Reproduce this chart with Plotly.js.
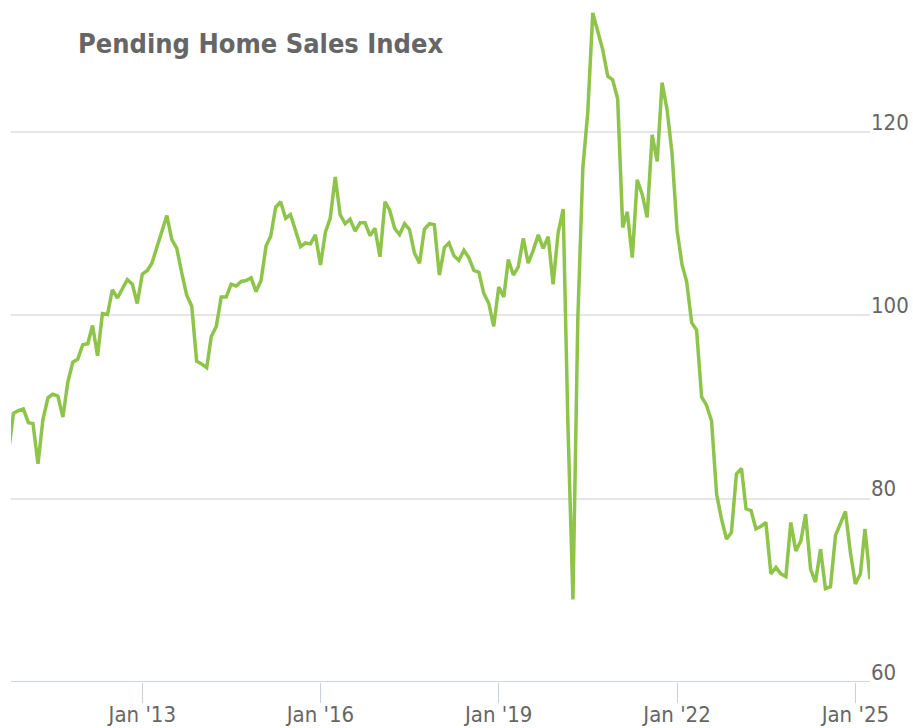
<!DOCTYPE html>
<html>
<head>
<meta charset="utf-8">
<script src="https://cdn.plot.ly/plotly-3.0.1.min.js"></script>
<style>
  html, body { margin: 0; padding: 0; background: #ffffff; }
  #chart { width: 913px; height: 728px; }
</style>
</head>
<body>
<div id="chart"></div>
<script>
// Months (first day of each month), Oct 2010 – Apr 2025
const months = [
  '2010-10-01','2010-11-01','2010-12-01',
  '2011-01-01','2011-02-01','2011-03-01','2011-04-01','2011-05-01','2011-06-01','2011-07-01','2011-08-01','2011-09-01','2011-10-01','2011-11-01','2011-12-01',
  '2012-01-01','2012-02-01','2012-03-01','2012-04-01','2012-05-01','2012-06-01','2012-07-01','2012-08-01','2012-09-01','2012-10-01','2012-11-01','2012-12-01',
  '2013-01-01','2013-02-01','2013-03-01','2013-04-01','2013-05-01','2013-06-01','2013-07-01','2013-08-01','2013-09-01','2013-10-01','2013-11-01','2013-12-01',
  '2014-01-01','2014-02-01','2014-03-01','2014-04-01','2014-05-01','2014-06-01','2014-07-01','2014-08-01','2014-09-01','2014-10-01','2014-11-01','2014-12-01',
  '2015-01-01','2015-02-01','2015-03-01','2015-04-01','2015-05-01','2015-06-01','2015-07-01','2015-08-01','2015-09-01','2015-10-01','2015-11-01','2015-12-01',
  '2016-01-01','2016-02-01','2016-03-01','2016-04-01','2016-05-01','2016-06-01','2016-07-01','2016-08-01','2016-09-01','2016-10-01','2016-11-01','2016-12-01',
  '2017-01-01','2017-02-01','2017-03-01','2017-04-01','2017-05-01','2017-06-01','2017-07-01','2017-08-01','2017-09-01','2017-10-01','2017-11-01','2017-12-01',
  '2018-01-01','2018-02-01','2018-03-01','2018-04-01','2018-05-01','2018-06-01','2018-07-01','2018-08-01','2018-09-01','2018-10-01','2018-11-01','2018-12-01',
  '2019-01-01','2019-02-01','2019-03-01','2019-04-01','2019-05-01','2019-06-01','2019-07-01','2019-08-01','2019-09-01','2019-10-01','2019-11-01','2019-12-01',
  '2020-01-01','2020-02-01','2020-03-01','2020-04-01','2020-05-01','2020-06-01','2020-07-01','2020-08-01','2020-09-01','2020-10-01','2020-11-01','2020-12-01',
  '2021-01-01','2021-02-01','2021-03-01','2021-04-01','2021-05-01','2021-06-01','2021-07-01','2021-08-01','2021-09-01','2021-10-01','2021-11-01','2021-12-01',
  '2022-01-01','2022-02-01','2022-03-01','2022-04-01','2022-05-01','2022-06-01','2022-07-01','2022-08-01','2022-09-01','2022-10-01','2022-11-01','2022-12-01',
  '2023-01-01','2023-02-01','2023-03-01','2023-04-01','2023-05-01','2023-06-01','2023-07-01','2023-08-01','2023-09-01','2023-10-01','2023-11-01','2023-12-01',
  '2024-01-01','2024-02-01','2024-03-01','2024-04-01','2024-05-01','2024-06-01','2024-07-01','2024-08-01','2024-09-01','2024-10-01','2024-11-01','2024-12-01',
  '2025-01-01','2025-02-01','2025-03-01','2025-04-01'
];

// Pending Home Sales Index values
const indexValues = [
  85.0, 89.3, 89.6,
  89.8, 88.3, 88.2, 83.8, 88.6, 91.0, 91.4, 91.2, 88.9, 92.7, 94.9, 95.2,
  96.8, 96.9, 98.9, 95.6, 100.2, 100.1, 102.8, 101.9, 102.9, 103.9, 103.4, 101.3,
  104.5, 104.9, 105.7, 107.5, 109.4, 110.9, 108.3, 107.3, 104.6, 102.2, 101.0, 95.0,
  94.7, 94.3, 97.7, 98.8, 102.0, 102.0, 103.4, 103.2, 103.7, 103.8, 104.1, 102.6,
  103.8, 107.6, 108.6, 111.8, 112.4, 110.6, 111.0, 109.3, 107.5, 107.9, 107.8, 108.8,
  105.5, 109.1, 110.6, 115.1, 111.0, 110.0, 110.5, 109.2, 110.1, 110.1, 108.7, 109.5,
  106.4, 112.4, 111.5, 109.5, 108.8, 110.0, 109.4, 106.8, 105.7, 109.4, 110.0, 109.9,
  104.4, 107.4, 107.9, 106.5, 106.0, 107.1, 106.3, 104.9, 104.7, 102.4, 101.3, 98.8,
  103.1, 102.0, 106.1, 104.4, 105.3, 108.4, 105.7, 107.1, 108.8, 107.3, 108.6, 103.4,
  109.0, 111.6, 88.2, 69.0, 99.6, 116.1, 122.1, 133.0, 131.0, 129.0, 126.1, 125.7,
  123.6, 109.6, 111.3, 106.3, 114.8, 113.2, 110.7, 119.7, 116.8, 125.4, 122.4, 117.7,
  109.3, 105.5, 103.7, 99.2, 98.4, 91.1, 90.2, 88.5, 80.5, 77.8, 75.6, 76.3,
  82.7, 83.3, 78.9, 78.7, 76.7, 77.0, 77.4, 71.8, 72.5, 71.8, 71.5, 77.4,
  74.3, 75.4, 78.3, 72.3, 70.9, 74.5, 70.2, 70.4, 76.0, 77.4, 78.6, 74.2,
  70.7, 71.8, 76.7, 71.2
];

// Axis ticks
const xTickVals = ['2013-01-01', '2016-01-01', '2019-01-01', '2022-01-01', '2025-01-01'];
const xTickText = ["Jan '13", "Jan '16", "Jan '19", "Jan '22", "Jan '25"];
const yTickVals = [60, 80, 100, 120];

const labelFont = 'Liberation Sans Narrow, DejaVu Sans Condensed, Arial Narrow, sans-serif';

const trace = {
  type: 'scatter',
  mode: 'lines',
  x: months,
  y: indexValues,
  line: { color: '#8dc449', width: 3.5 },
  hoverinfo: 'x+y',
  showlegend: false
};

const layout = {
  width: 913,
  height: 728,
  margin: { l: 11, r: 43, t: 10, b: 46 },
  paper_bgcolor: '#ffffff',
  plot_bgcolor: '#ffffff',
  title: {
    text: '<b>Pending Home Sales Index</b>',
    font: { family: labelFont, size: 27, color: '#666666' },
    x: 78 / 913,
    xref: 'container',
    xanchor: 'left',
    y: 1 - 44 / 728,
    yref: 'container',
    yanchor: 'middle'
  },
  xaxis: {
    type: 'date',
    range: ['2010-10-17', '2025-04-01'],
    tickmode: 'array',
    tickvals: xTickVals,
    ticktext: xTickText,
    ticks: 'outside',
    ticklen: 20,
    tickwidth: 1,
    tickcolor: '#c8d0e0',
    showgrid: false,
    zeroline: false,
    showline: false,
    tickfont: { family: labelFont, size: 22, color: '#666666' },
    ticklabelstandoff: -7,
    fixedrange: true
  },
  yaxis: {
    range: [60, 133.32],
    side: 'right',
    tickmode: 'array',
    tickvals: yTickVals,
    ticks: '',
    showgrid: true,
    gridcolor: '#e6e6e6',
    gridwidth: 2,
    zeroline: false,
    showline: false,
    tickfont: { family: labelFont, size: 22, color: '#666666' },
    ticklabelshift: -10,
    ticklabelstandoff: 0,
    fixedrange: true
  },
  shapes: [
    {
      type: 'line', xref: 'paper', yref: 'y',
      x0: 0, x1: 1, y0: 60, y1: 60,
      line: { color: '#ccd6eb', width: 2 },
      layer: 'below'
    }
  ]
};

Plotly.newPlot('chart', [trace], layout, { displayModeBar: false, staticPlot: true });
</script>
</body>
</html>
